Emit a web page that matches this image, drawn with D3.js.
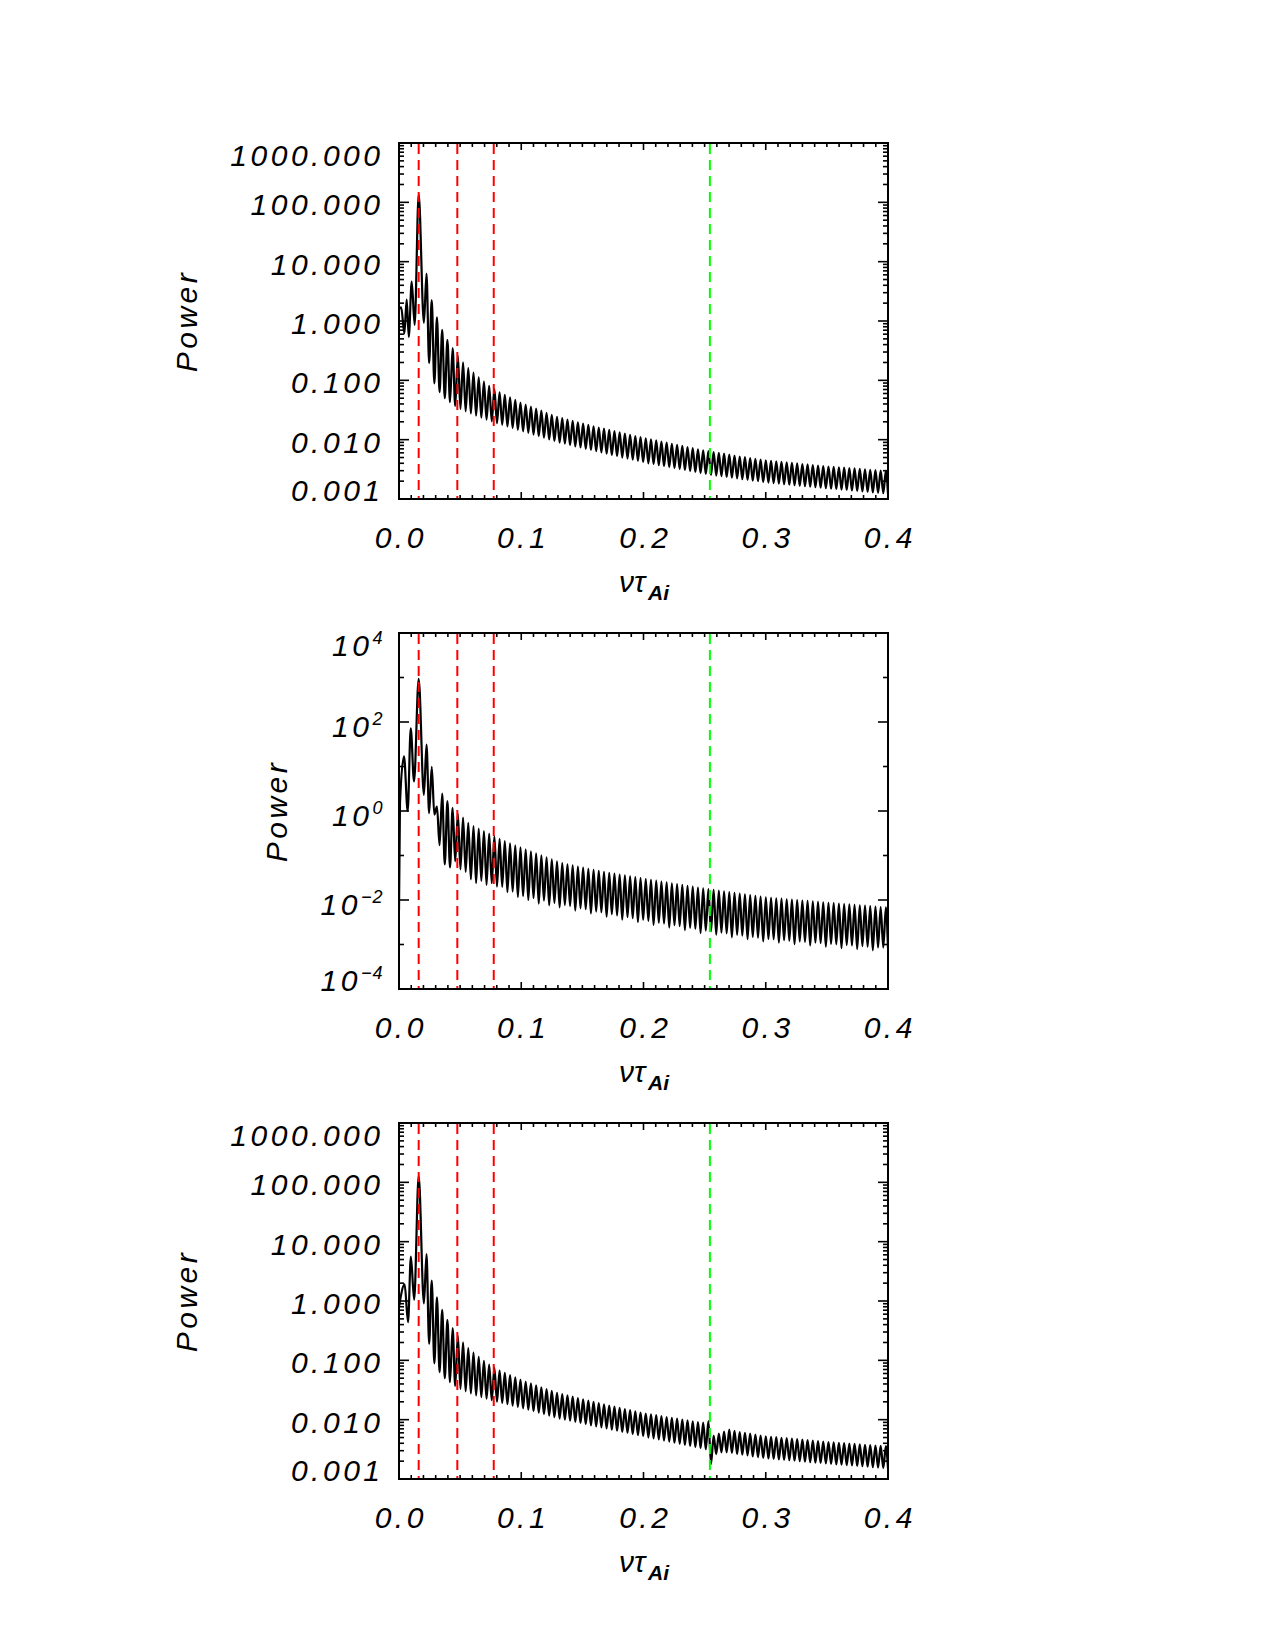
<!DOCTYPE html>
<html>
<head>
<meta charset="utf-8">
<script src="https://cdn.jsdelivr.net/npm/d3@7"></script>
<style>
  body { margin: 0; background: #fff; }
  text { font-family: 'Liberation Sans', 'DejaVu Sans', sans-serif; font-style: italic; fill: #000; }
</style>
</head>
<body>
<div id="root"></div>
<script>
// frequency axis ticks and the marker lines (nu tau_Ai)
const xTicks = [0, 0.1, 0.2, 0.3, 0.4]
const redLines = [0.0161, 0.0477, 0.0775]
const greenLines = [0.2543]

// low-frequency part of each spectrum (up to the main peak)
const head1Freq = [0, 0.0018, 0.0044, 0.0063, 0.0080, 0.0104, 0.0128, 0.0161]
const head1Pow = [1.6, 1.7, 0.62, 2.3, 0.54, 4.6, 0.86, 136]
const head2Freq = [0, 0.0008, 0.0041, 0.0071, 0.0096, 0.0123, 0.0161]
const head2Pow = [0.006, 1.5, 17, 1.0, 72, 4.6, 930]
const head3Freq = [0, 0.0046, 0.0074, 0.0097, 0.0124, 0.0161]
const head3Pow = [0.8, 1.9, 0.44, 5.6, 1.05, 128]

// side lobes: minima and maxima alternate (min, max, min, ...)
const sideFreq = [
  0.02037, 0.02251, 0.02464, 0.02678, 0.02891, 0.03105, 0.03318, 0.03532, 0.03745, 0.03959,
  0.04172, 0.04386, 0.04599, 0.04813, 0.05026, 0.05240, 0.05453, 0.05667, 0.05880, 0.06094,
  0.06307, 0.06521, 0.06734, 0.06948, 0.07161, 0.07375, 0.07588, 0.07802, 0.08015, 0.08229,
  0.08442, 0.08656, 0.08869, 0.09083, 0.09296, 0.09510, 0.09723, 0.09937, 0.10150, 0.10364,
  0.10577, 0.10791, 0.11004, 0.11218, 0.11431, 0.11645, 0.11858, 0.12072, 0.12285, 0.12499,
  0.12712, 0.12926, 0.13139, 0.13353, 0.13566, 0.13780, 0.13993, 0.14207, 0.14420, 0.14634,
  0.14847, 0.15061, 0.15274, 0.15488, 0.15701, 0.15915, 0.16128, 0.16342, 0.16555, 0.16769,
  0.16982, 0.17196, 0.17409, 0.17623, 0.17836, 0.18050, 0.18263, 0.18477, 0.18690, 0.18904,
  0.19117, 0.19331, 0.19544, 0.19758, 0.19971, 0.20185, 0.20398, 0.20612, 0.20825, 0.21039,
  0.21252, 0.21466, 0.21679, 0.21893, 0.22106, 0.22320, 0.22533, 0.22747, 0.22960, 0.23174,
  0.23387, 0.23601, 0.23814, 0.24028, 0.24241, 0.24455, 0.24668, 0.24882, 0.25095, 0.25309,
  0.25522, 0.25736, 0.25949, 0.26163, 0.26376, 0.26590, 0.26803, 0.27017, 0.27230, 0.27444,
  0.27657, 0.27871, 0.28084, 0.28298, 0.28511, 0.28725, 0.28938, 0.29152, 0.29365, 0.29579,
  0.29792, 0.30006, 0.30219, 0.30433, 0.30646, 0.30860, 0.31073, 0.31287, 0.31500, 0.31714,
  0.31927, 0.32141, 0.32354, 0.32568, 0.32781, 0.32995, 0.33208, 0.33422, 0.33635, 0.33849,
  0.34062, 0.34276, 0.34489, 0.34703, 0.34916, 0.35130, 0.35343, 0.35557, 0.35770, 0.35984,
  0.36197, 0.36411, 0.36624, 0.36838, 0.37051, 0.37265, 0.37478, 0.37692, 0.37905, 0.38119,
  0.38332, 0.38546, 0.38759, 0.38973, 0.39186, 0.39400, 0.39613, 0.39827, 0.40000
]

const side1Pow = [
  0.93, 6.3, 0.195, 2.24, 0.089, 1.15, 0.063, 0.71, 0.050, 0.48,
  0.043, 0.35, 0.037, 0.26, 0.033, 0.20, 0.030, 0.16, 0.0276, 0.135,
  0.0254, 0.112, 0.0235, 0.095, 0.0218, 0.081, 0.0204, 0.071, 0.0190, 0.063,
  0.0178, 0.057, 0.0167, 0.0515, 0.0157, 0.0467, 0.0147, 0.0423, 0.0138, 0.039,
  0.0130, 0.036, 0.0122, 0.0333, 0.0115, 0.0308, 0.0108, 0.0284, 0.0101, 0.0263,
  0.0095, 0.0243, 0.0089, 0.0230, 0.0086, 0.0218, 0.0081, 0.0207, 0.0077, 0.0196,
  0.0074, 0.0186, 0.0070, 0.0177, 0.0067, 0.0168, 0.0064, 0.0160, 0.0061, 0.0153,
  0.0058, 0.0146, 0.0055, 0.0139, 0.0053, 0.0133, 0.0050, 0.0127, 0.0048, 0.0121,
  0.0046, 0.0115, 0.0044, 0.0110, 0.0042, 0.0105, 0.0040, 0.0101, 0.00387, 0.0097,
  0.00372, 0.0093, 0.00359, 0.0089, 0.00345, 0.0085, 0.00332, 0.0082, 0.00320, 0.0079,
  0.00308, 0.0075, 0.00296, 0.0072, 0.00285, 0.0069, 0.00274, 0.0066, 0.00264, 0.0064,
  0.00255, 0.0062, 0.00248, 0.0060, 0.00242, 0.0058, 0.00235, 0.0056, 0.00229, 0.0054,
  0.00222, 0.0052, 0.00216, 0.0051, 0.00210, 0.0049, 0.00204, 0.00476, 0.00199, 0.00461,
  0.00193, 0.00447, 0.00189, 0.00438, 0.00185, 0.00430, 0.00182, 0.00421, 0.00178, 0.00413,
  0.00174, 0.00405, 0.00171, 0.00397, 0.00167, 0.00389, 0.00164, 0.00382, 0.00161, 0.00374,
  0.00158, 0.00366, 0.00155, 0.00360, 0.00152, 0.00353, 0.00149, 0.00348, 0.00147, 0.00342,
  0.00144, 0.00337, 0.00142, 0.00332, 0.00139, 0.00327, 0.00137, 0.00322, 0.00134, 0.00316,
  0.00132, 0.00311, 0.00129, 0.00306, 0.00127, 0.00302, 0.00125, 0.00297, 0.00123
]

const side2Pow = [
  2.3, 31, 0.9, 9.8, 0.83, 1.26, 0.17, 2.45, 0.063, 1.66,
  0.054, 1.17, 0.074, 0.87, 0.049, 0.71, 0.043, 0.54, 0.029, 0.46,
  0.024, 0.40, 0.0269, 0.352, 0.0219, 0.309, 0.0239, 0.27, 0.020, 0.238,
  0.0197, 0.210, 0.0151, 0.187, 0.0154, 0.169, 0.0117, 0.153, 0.0123, 0.138,
  0.0100, 0.124, 0.0110, 0.112, 0.0083, 0.101, 0.0097, 0.0908, 0.0076, 0.0816,
  0.0086, 0.0735, 0.0068, 0.0675, 0.0077, 0.0635, 0.0073, 0.060, 0.0058, 0.0565,
  0.0065, 0.0532, 0.0062, 0.0502, 0.0050, 0.0473, 0.0055, 0.0451, 0.0053, 0.0431,
  0.0042, 0.0410, 0.0048, 0.0392, 0.0045, 0.0374, 0.0036, 0.0357, 0.0041, 0.0340,
  0.0039, 0.0325, 0.0032, 0.0310, 0.0036, 0.0296, 0.0034, 0.0284, 0.00275, 0.0272,
  0.0031, 0.0260, 0.00296, 0.0249, 0.0024, 0.0238, 0.00271, 0.0228, 0.00259, 0.0218,
  0.0021, 0.0209, 0.00236, 0.0200, 0.00226, 0.0191, 0.0018, 0.0183, 0.00206, 0.0175,
  0.00198, 0.0169, 0.00166, 0.0163, 0.00184, 0.0156, 0.00177, 0.0150, 0.00145, 0.0145,
  0.00165, 0.0139, 0.00159, 0.0134, 0.00132, 0.0129, 0.00148, 0.0124, 0.00142, 0.0119,
  0.00117, 0.0115, 0.00133, 0.0112, 0.00131, 0.0109, 0.0011, 0.0107, 0.00125, 0.0104,
  0.00122, 0.0102, 0.00102, 0.00995, 0.00117, 0.00973, 0.00115, 0.00951, 0.00095, 0.00929,
  0.0011, 0.00906, 0.00107, 0.00885, 0.00089, 0.00867, 0.00103, 0.00848, 0.00101, 0.0083,
  0.00083, 0.00811, 0.00097, 0.00794, 0.00095, 0.00776, 0.00079, 0.0076, 0.00092, 0.00745,
  0.0009, 0.00728, 0.00074, 0.00713, 0.00086, 0.00697, 0.00085, 0.00682, 0.00083
]

const side3Pow = [
  0.91, 6.2, 0.19, 2.2, 0.089, 1.15, 0.063, 0.71, 0.050, 0.48,
  0.043, 0.35, 0.037, 0.26, 0.033, 0.20, 0.030, 0.16, 0.0276, 0.135,
  0.0256, 0.114, 0.024, 0.098, 0.0226, 0.0845, 0.0213, 0.0745, 0.0201, 0.0673,
  0.0191, 0.0615, 0.0182, 0.0562, 0.0173, 0.0516, 0.0164, 0.0473, 0.0155, 0.0440,
  0.0147, 0.0408, 0.0139, 0.0380, 0.0131, 0.0352, 0.0124, 0.0327, 0.0117, 0.0305,
  0.0110, 0.0283, 0.0104, 0.0269, 0.0100, 0.0256, 0.0096, 0.0244, 0.0092, 0.0232,
  0.0088, 0.0220, 0.0084, 0.0209, 0.0080, 0.0199, 0.0077, 0.0190, 0.0074, 0.0181,
  0.0071, 0.0173, 0.0068, 0.0166, 0.0065, 0.0158, 0.0062, 0.0151, 0.0060, 0.0145,
  0.0057, 0.0138, 0.0055, 0.0132, 0.0053, 0.0127, 0.0050, 0.0123, 0.00484, 0.0119,
  0.00463, 0.0115, 0.00445, 0.0111, 0.00427, 0.0107, 0.00408, 0.0104, 0.00392, 0.0100,
  0.00375, 0.0097, 0.0036, 0.0094, 0.00345, 0.0091, 0.0033, 0.0089, 0.00316, 0.0095,
  0.00178, 0.0054, 0.00263, 0.0058, 0.00282, 0.0063, 0.00282, 0.0068, 0.00275, 0.0065,
  0.00263, 0.0062, 0.00257, 0.0060, 0.00251, 0.0058, 0.0024, 0.0056, 0.00234, 0.0054,
  0.00226, 0.00525, 0.00222, 0.00514, 0.00218, 0.00506, 0.00214, 0.00495, 0.0021, 0.00488,
  0.00207, 0.00478, 0.00203, 0.0047, 0.0020, 0.0046, 0.00196, 0.00452, 0.00192, 0.00444,
  0.00189, 0.00435, 0.00186, 0.00428, 0.00183, 0.0042, 0.0018, 0.00414, 0.00177, 0.00407,
  0.00174, 0.00401, 0.00171, 0.00396, 0.00169, 0.0039, 0.00166, 0.00385, 0.00164, 0.00378,
  0.00161, 0.00373, 0.00158, 0.00367, 0.00156, 0.00362, 0.00153, 0.00357, 0.00151
]

const plotLeft = 399
const plotRight = 888
const plotHeight = 356
const fontSize = 30
const labelSpacing = 3.5

const panels = [
  { top: 143, domain: [1e-3, 1e3], tickCount: 10, majorStep: 1, labels: 'fixed', titleX: 197, headFreq: head1Freq, headPow: head1Pow, sidePow: side1Pow },
  { top: 633, domain: [1e-4, 1e4], tickCount: 8, majorStep: 2, labels: 'power', titleX: 287, headFreq: head2Freq, headPow: head2Pow, sidePow: side2Pow },
  { top: 1123, domain: [1e-3, 1e3], tickCount: 10, majorStep: 1, labels: 'fixed', titleX: 197, headFreq: head3Freq, headPow: head3Pow, sidePow: side3Pow }
]

const svg = d3.select('#root').append('svg')
  .attr('width', 1275)
  .attr('height', 1650)

const x = d3.scaleLinear().domain([0, 0.4]).range([plotLeft, plotRight])
const fmtFixed = d3.format('.3f')
const fmtX = d3.format('.1f')

panels.forEach((p, k) => {
  const bottom = p.top + plotHeight
  const y = d3.scaleLog().domain(p.domain).range([bottom, p.top])
  const g = svg.append('g')

  svg.append('clipPath').attr('id', 'clip' + k)
    .append('rect')
    .attr('x', plotLeft).attr('y', p.top)
    .attr('width', plotRight - plotLeft).attr('height', plotHeight)

  // spectrum
  const pts = p.headFreq.map((f, i) => ({ f, v: p.headPow[i] }))
    .concat(sideFreq.map((f, i) => ({ f, v: p.sidePow[i] })))
    .filter(d => d.v !== undefined)
  const line = d3.line()
    .x(d => x(d.f))
    .y(d => y(d.v))
    .curve(d3.curveMonotoneX)
  g.append('path')
    .datum(pts)
    .attr('d', line)
    .attr('fill', 'none')
    .attr('stroke', '#000')
    .attr('stroke-width', 2.2)
    .attr('stroke-linejoin', 'round')
    .attr('clip-path', `url(#clip${k})`)

  // dashed markers
  const markers = redLines.map(f => ({ f, c: '#ff0000' }))
    .concat(greenLines.map(f => ({ f, c: '#00ff00' })))
  g.selectAll('line.marker')
    .data(markers)
    .join('line')
    .attr('class', 'marker')
    .attr('x1', d => x(d.f)).attr('x2', d => x(d.f))
    .attr('y1', p.top + 1).attr('y2', bottom - 1)
    .attr('stroke', d => d.c)
    .attr('stroke-width', 2)
    .attr('stroke-dasharray', '10,6')

  // frame
  g.append('rect')
    .attr('x', plotLeft).attr('y', p.top)
    .attr('width', plotRight - plotLeft).attr('height', plotHeight)
    .attr('fill', 'none')
    .attr('stroke', '#000')
    .attr('stroke-width', 2)

  // x ticks, top and bottom
  const isMajorX = t => Math.abs(t * 10 - Math.round(t * 10)) < 1e-6
  x.ticks(40).forEach(t => {
    const len = isMajorX(t) ? 7 : 4
    g.append('line').attr('x1', x(t)).attr('x2', x(t))
      .attr('y1', bottom).attr('y2', bottom - len)
      .attr('stroke', '#000').attr('stroke-width', 1.6)
    g.append('line').attr('x1', x(t)).attr('x2', x(t))
      .attr('y1', p.top).attr('y2', p.top + len)
      .attr('stroke', '#000').attr('stroke-width', 1.6)
  })

  g.selectAll('text.xlab')
    .data(xTicks)
    .join('text')
    .attr('class', 'xlab')
    .attr('x', d => x(d) + labelSpacing / 2)
    .attr('y', bottom + 49)
    .attr('text-anchor', 'middle')
    .attr('font-size', fontSize)
    .attr('letter-spacing', labelSpacing)
    .text(d => fmtX(d))

  // y ticks, left and right
  y.ticks(p.tickCount).forEach(t => {
    const e = Math.log10(t)
    const isDecade = Math.abs(e - Math.round(e)) < 1e-6
    const isMajor = isDecade && Math.round(e) % p.majorStep === 0
    const len = isMajor ? 10 : 5
    g.append('line').attr('x1', plotLeft).attr('x2', plotLeft + len)
      .attr('y1', y(t)).attr('y2', y(t))
      .attr('stroke', '#000').attr('stroke-width', 1.6)
    g.append('line').attr('x1', plotRight).attr('x2', plotRight - len)
      .attr('y1', y(t)).attr('y2', y(t))
      .attr('stroke', '#000').attr('stroke-width', 1.6)

    if (!isMajor) return
    const mid = Math.max(p.top + 12, Math.min(bottom - 9, y(t) + (p.labels === 'power' ? 4 : 2)))
    const label = g.append('text')
      .attr('x', 380 + labelSpacing)
      .attr('y', mid + 11)
      .attr('text-anchor', 'end')
      .attr('font-size', fontSize)
      .attr('letter-spacing', labelSpacing)
    if (p.labels === 'fixed') {
      label.text(fmtFixed(t))
    } else {
      const n = Math.round(e)
      label.append('tspan').text('10')
      label.append('tspan')
        .attr('dy', -12)
        .attr('font-size', 18)
        .attr('letter-spacing', 1)
        .text(n < 0 ? '\u2212' + (-n) : String(n))
    }
  })

  // axis titles
  g.append('text')
    .attr('transform', `translate(${p.titleX}, ${p.top + plotHeight / 2}) rotate(-90)`)
    .attr('text-anchor', 'middle')
    .attr('font-size', fontSize)
    .attr('letter-spacing', labelSpacing)
    .text('Power')

  const xt = g.append('text')
    .attr('x', 644)
    .attr('y', bottom + 93)
    .attr('text-anchor', 'middle')
    .attr('font-size', fontSize)
  xt.append('tspan').text('\u03bd\u03c4')
  xt.append('tspan')
    .attr('dy', 8)
    .attr('font-size', 21)
    .attr('font-weight', 'bold')
    .attr('dx', 3)
    .text('Ai')
})
</script>
</body>
</html>
